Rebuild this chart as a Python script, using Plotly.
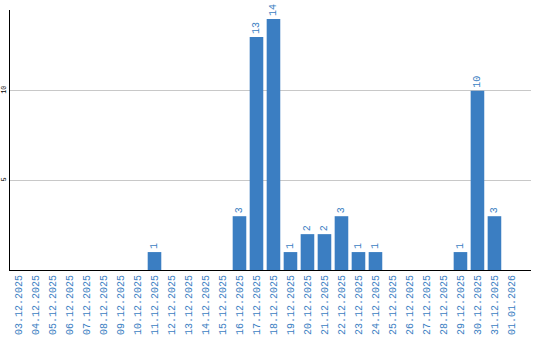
import plotly.graph_objects as go

dates = ["03.12.2025","04.12.2025","05.12.2025","06.12.2025","07.12.2025","08.12.2025",
         "09.12.2025","10.12.2025","11.12.2025","12.12.2025","13.12.2025","14.12.2025",
         "15.12.2025","16.12.2025","17.12.2025","18.12.2025","19.12.2025","20.12.2025",
         "21.12.2025","22.12.2025","23.12.2025","24.12.2025","25.12.2025","26.12.2025",
         "27.12.2025","28.12.2025","29.12.2025","30.12.2025","31.12.2025","01.01.2026"]
values = [0,0,0,0,0,0,0,0,1,0,0,0,0,3,13,14,1,2,2,3,1,1,0,0,0,0,1,10,3,0]

blue = "#3b7ec2"
font = "Liberation Mono"
labels = [str(v) if v > 0 else "" for v in values]

fig = go.Figure(go.Bar(
    x=list(range(len(dates))), y=values, marker_color=blue, marker_line_width=0,
    text=labels, textposition="outside", textangle=-90,
    textfont=dict(family=font, size=10, color=blue),
    cliponaxis=False, width=0.8,
))
fig.update_layout(
    width=540, height=340, margin=dict(l=10, r=9, t=10, b=70),
    paper_bgcolor="white", plot_bgcolor="white", showlegend=False,
    uniformtext=dict(minsize=10, mode=False),
    xaxis=dict(range=[-0.5, 30.15], tickmode="array", tickvals=list(range(len(dates))),
               ticktext=dates, tickangle=-90, showgrid=False, zeroline=False,
               showline=True, linecolor="black", linewidth=1, ticks="",
               automargin=False,
               tickfont=dict(family=font, size=10, color=blue)),
    yaxis=dict(range=[0, 14.5], tickvals=[5, 10], tickangle=-90, showgrid=True,
               gridcolor="#c8c8c8", zeroline=False, showline=True, linecolor="black",
               linewidth=1, ticks="", ticklabelstandoff=0, automargin=False,
               tickfont=dict(family=font, size=7, color="black")),
)
fig.write_html("out.html")
